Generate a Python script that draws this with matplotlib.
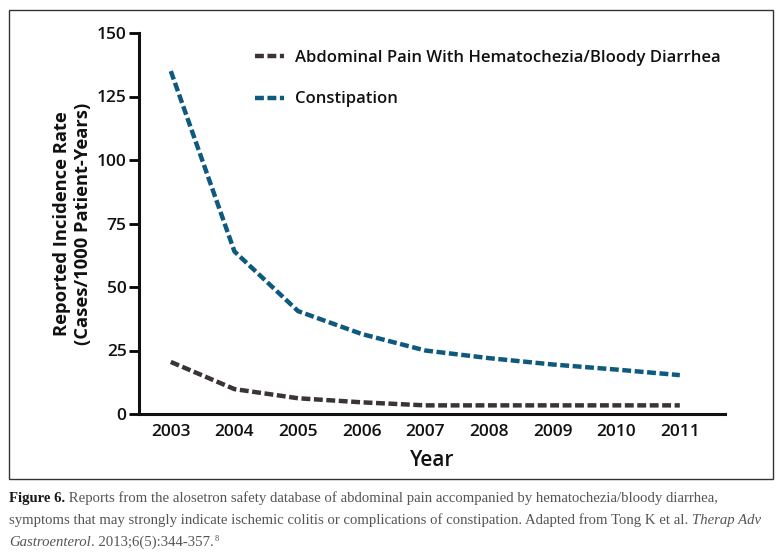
import matplotlib
matplotlib.use("Agg")
import matplotlib.pyplot as plt
from matplotlib.patches import Rectangle

# data
years = [2003, 2004, 2005, 2006, 2007, 2008, 2009, 2010, 2011]
abdominal_pain = [20.5, 9.8, 6.2, 4.6, 3.4, 3.4, 3.4, 3.4, 3.4]
constipation = [135, 64, 40.5, 31.5, 25, 22, 19.5, 17.5, 15.3]
y_ticks = [0, 25, 50, 75, 100, 125, 150]

label_abd = "Abdominal Pain With Hematochezia/Bloody Diarrhea"
label_con = "Constipation"

c_abd = "#3b3436"
c_con = "#0e5a7f"
sans = ["Open Sans", "DejaVu Sans"]
serif = ["Liberation Serif", "DejaVu Serif"]

W, H = 783, 553
fig = plt.figure(figsize=(W / 100, H / 100), dpi=100)

# axes placed in pixel terms
left, right, top, bottom = 139, 725, 33, 414
ax = fig.add_axes([left / W, 1 - bottom / H, (right - left) / W, (bottom - top) / H])

dash = (2.0, 0.8)
ax.plot(years, abdominal_pain, color=c_abd, lw=3.2, dashes=dash, label=label_abd)
ax.plot(years, constipation, color=c_con, lw=3.2, dashes=dash, label=label_con)

ax.set_xlim(2002.5, 2011.71)
ax.set_ylim(0, 150)
ax.set_xticks(years)
ax.set_yticks(y_ticks)
ax.tick_params(axis="x", length=0, pad=7)
ax.tick_params(axis="y", length=7, width=2, pad=2, direction="out")
for lab in ax.get_xticklabels() + ax.get_yticklabels():
    lab.set_family(sans)
    lab.set_fontweight("semibold")
    lab.set_fontsize(12.5)
    lab.set_color("#111111")

for s in ["top", "right"]:
    ax.spines[s].set_visible(False)
for s in ["left", "bottom"]:
    ax.spines[s].set_linewidth(2.2)
    ax.spines[s].set_color("#111111")

ax.set_xlabel("Year", family=sans, fontweight="semibold", fontsize=15, color="#111111")
ax.xaxis.set_label_coords(0.5, -0.095)
ax.set_ylabel("Reported Incidence Rate\n(Cases/1000 Patient-Years)", family=sans,
              fontweight="bold", fontsize=13.2, color="#111111", linespacing=1.2)
ax.yaxis.set_label_coords(-0.08, 0.5)

leg = ax.legend(loc="upper left", bbox_to_anchor=(0.173, 0.996), frameon=False,
                handlelength=1.7, handletextpad=0.7, labelspacing=1.55,
                prop={"family": sans, "weight": "semibold", "size": 12})
for t in leg.get_texts():
    t.set_color("#111111")

# outer frame around the chart
fig.patches.append(Rectangle((9 / W, 1 - 479 / H), (773 - 9) / W, (479 - 10) / H,
                             transform=fig.transFigure, fill=False,
                             edgecolor="#333333", lw=1.0))

# caption, drawn piece by piece so bold/italic parts can mix
caption = [
    [("Figure 6.", "bold", "normal", "#1a1a1a"),
     (" Reports from the alosetron safety database of abdominal pain accompanied by hematochezia/bloody diarrhea,",
      "normal", "normal", "#555555")],
    [("symptoms that may strongly indicate ischemic colitis or complications of constipation. Adapted from Tong K et al. ",
      "normal", "normal", "#555555"),
     ("Therap Adv", "normal", "italic", "#555555")],
    [("Gastroenterol", "normal", "italic", "#555555"),
     (". 2013;6(5):344-357.", "normal", "normal", "#555555")],
]
renderer = fig.canvas.get_renderer()
line_y = [502, 524, 546]
for row, yy in zip(caption, line_y):
    x = 9
    for txt, wt, st, col in row:
        t = fig.text(x / W, 1 - yy / H, txt, family=serif, fontsize=10.6, weight=wt,
                     style=st, color=col, ha="left", va="baseline")
        x += t.get_window_extent(renderer).width
    if yy == line_y[-1]:
        fig.text((x + 1) / W, 1 - (yy - 5) / H, "8", family=serif, fontsize=6,
                 color="#555555", ha="left", va="baseline")

fig.savefig("out.png", dpi=100)
